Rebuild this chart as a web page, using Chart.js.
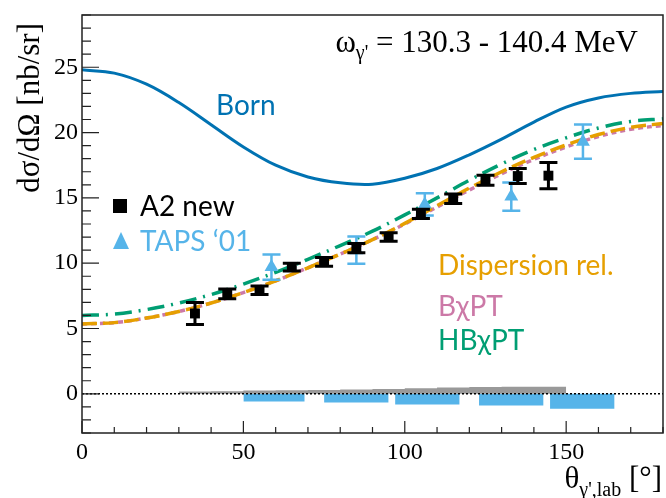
<!DOCTYPE html>
<html>
<head>
<meta charset="utf-8">
<script src="https://cdn.jsdelivr.net/npm/chart.js@4.4.1/dist/chart.umd.min.js"></script>
<style>
  html, body { margin: 0; padding: 0; background: #fff; overflow: hidden; }
  #wrap { width: 666px; height: 498px; }
</style>
</head>
<body>
<div id="wrap"><canvas id="cs"></canvas></div>
<script>
// theory curves, read every 10 degrees
const angles = [0, 10, 20, 30, 40, 50, 60, 70, 80, 90, 100, 110, 120, 130, 140, 150, 160, 170, 180];
const born = [24.8, 24.55, 23.7, 22.3, 20.6, 18.9, 17.5, 16.6, 16.15, 16.05, 16.5, 17.25, 18.3, 19.5, 20.8, 21.95, 22.65, 23.0, 23.15];
const dispersion = [5.35, 5.45, 5.8, 6.3, 6.95, 7.75, 8.65, 9.65, 10.7, 11.8, 13.05, 14.4, 15.75, 17.0, 18.1, 19.05, 19.85, 20.4, 20.7];
const bchpt = [5.35, 5.45, 5.8, 6.3, 6.95, 7.75, 8.65, 9.65, 10.7, 11.8, 13.0, 14.3, 15.6, 16.85, 17.95, 18.9, 19.7, 20.25, 20.55];
const hbchpt = [6.0, 6.1, 6.45, 6.95, 7.6, 8.4, 9.3, 10.3, 11.35, 12.45, 13.7, 15.0, 16.35, 17.6, 18.7, 19.6, 20.35, 20.85, 21.05];

// A2 new data
const a2X = [35, 45, 55, 65, 75, 85, 95, 105, 115, 125, 135, 144.5];
const a2Y = [6.15, 7.65, 7.93, 9.7, 10.1, 11.15, 12.0, 13.78, 14.93, 16.35, 16.67, 16.7];
const a2Err = [0.85, 0.37, 0.33, 0.3, 0.33, 0.35, 0.33, 0.35, 0.36, 0.38, 0.57, 1.0];

// TAPS '01 data
const tapsX = [58.7, 85, 106.2, 133, 155.2];
const tapsY = [9.7, 11.0, 14.5, 15.1, 19.3];
const tapsErr = [0.97, 1.05, 0.85, 1.08, 1.31];

// systematic errors
const a2SysEdges = [30, 40, 50, 60, 70, 80, 90, 100, 110, 120, 130, 140, 150];
const a2Sys = [0.15, 0.17, 0.2, 0.26, 0.28, 0.3, 0.33, 0.36, 0.43, 0.48, 0.52, 0.55];
const tapsSysLo = [50, 75, 97, 123, 145];
const tapsSysHi = [69, 95, 117, 143, 165];
const tapsSys = [0.58, 0.66, 0.81, 0.89, 1.15];

const xTicks = [0, 50, 100, 150];
const yTicks = [0, 5, 10, 15, 20, 25];

const SERIF = '"Liberation Serif", "Times New Roman", serif';
const SANS = 'Lato, "Noto Sans", sans-serif';
const C_BORN = '#0072b2', C_TAPS = '#56b4e9', C_DR = '#e69f00', C_B = '#cc79a7', C_HB = '#009e73';

const pts = (xs, ys) => xs.map((x, i) => ({ x: x, y: ys[i] }));

const curve = (data, color, dash, width) => ({
    data: data,
    borderColor: color,
    borderWidth: width,
    borderDash: dash,
    pointRadius: 0,
    fill: false,
    tension: 0.35
});

// gray A2 systematic band (step histogram)
const a2SysPts = a2SysEdges.map((x, i) => ({ x: x, y: a2Sys[Math.min(i, a2Sys.length - 1)] }));

const datasets = [
    { label: 'A2 new', data: pts(a2X, a2Y), showLine: false, pointStyle: 'rect', pointRadius: 7,
      backgroundColor: '#000', borderColor: '#000', borderWidth: 0, errs: a2Err, errColor: '#000', errWidth: 3 },
    { label: "TAPS '01", data: pts(tapsX, tapsY), showLine: false, pointStyle: 'triangle', pointRadius: 8,
      backgroundColor: C_TAPS, borderColor: C_TAPS, borderWidth: 0, errs: tapsErr, errColor: C_TAPS, errWidth: 2.5 },
    curve(pts(angles, born), C_BORN, [], 3),
    curve(pts(angles, hbchpt), C_HB, [17, 7, 2, 7], 3.5),
    curve(pts(angles, dispersion), C_DR, [15, 6], 3.5),
    curve(pts(angles, bchpt), C_B, [5, 4], 3.5),
    { data: [{ x: 0, y: 0 }, { x: 180, y: 0 }], borderColor: '#000', borderWidth: 1.5, borderDash: [2, 2], pointRadius: 0, fill: false },
    { data: a2SysPts, stepped: 'after', borderWidth: 0, borderColor: 'rgba(0,0,0,0)', backgroundColor: '#999999', pointRadius: 0, fill: 'origin' }
];
tapsSysLo.forEach((lo, i) => {
    datasets.push({
        data: [{ x: lo, y: -tapsSys[i] }, { x: tapsSysHi[i], y: -tapsSys[i] }],
        borderWidth: 0, borderColor: 'rgba(0,0,0,0)', backgroundColor: C_TAPS, pointRadius: 0, fill: 'origin'
    });
});

// error bars drawn right before their markers
const errorBars = {
    id: 'errorBars',
    beforeDatasetDraw(chart, args) {
        const ds = chart.data.datasets[args.index];
        if (!ds.errs) return;
        const ctx = chart.ctx, ys = chart.scales.y, xs = chart.scales.x;
        ctx.save();
        ctx.strokeStyle = ds.errColor;
        ctx.lineWidth = ds.errWidth;
        ds.data.forEach((p, i) => {
            const px = xs.getPixelForValue(p.x);
            const top = ys.getPixelForValue(p.y + ds.errs[i]);
            const bot = ys.getPixelForValue(p.y - ds.errs[i]);
            ctx.beginPath();
            ctx.moveTo(px, top); ctx.lineTo(px, bot);
            ctx.moveTo(px - 9, top); ctx.lineTo(px + 9, top);
            ctx.moveTo(px - 9, bot); ctx.lineTo(px + 9, bot);
            ctx.stroke();
        });
        ctx.restore();
    }
};

// frame, inner ticks, labels and titles
const decor = {
    id: 'decor',
    afterDraw(chart) {
        const ctx = chart.ctx, a = chart.chartArea, xs = chart.scales.x, ys = chart.scales.y;
        ctx.save();
        ctx.strokeStyle = '#222';
        ctx.lineWidth = 1.5;
        ctx.strokeRect(a.left, a.top, a.right - a.left, a.bottom - a.top);
        ctx.lineWidth = 1.2;
        ctx.beginPath();
        for (let v = -3; v <= 29; v++) {
            const py = ys.getPixelForValue(v);
            const len = v % 5 === 0 ? 17 : 9;
            ctx.moveTo(a.left, py); ctx.lineTo(a.left + len, py);
        }
        for (let v = 0; v <= 180; v += 10) {
            const px = xs.getPixelForValue(v);
            const len = v % 50 === 0 ? 12 : 6;
            ctx.moveTo(px, a.bottom); ctx.lineTo(px, a.bottom - len);
        }
        ctx.stroke();

        // title
        ctx.fillStyle = '#000';
        ctx.textBaseline = 'alphabetic';
        const big = '31px ' + SERIF, sub = '20px ' + SERIF;
        const rest = ' = 130.3 - 140.4 MeV';
        ctx.font = big; const wOm = ctx.measureText('\u03c9').width, wRest = ctx.measureText(rest).width;
        ctx.font = sub; const wSub = ctx.measureText('\u03b3\'').width;
        let tx = 638 - (wOm + wSub + wRest);
        ctx.font = big; ctx.fillText('\u03c9', tx, 52); tx += wOm;
        ctx.font = sub; ctx.fillText('\u03b3\'', tx, 59); tx += wSub;
        ctx.font = big; ctx.fillText(rest, tx, 52);

        // x title
        const xb = '31px ' + SERIF, xsub = '20px ' + SERIF;
        ctx.font = xb; const wTh = ctx.measureText('\u03b8').width, wBr = ctx.measureText(' [\u00b0]').width;
        ctx.font = xsub; const wXs = ctx.measureText('\u03b3\',lab').width;
        let xx = 662 - (wTh + wXs + wBr);
        ctx.font = xb; ctx.fillText('\u03b8', xx, 488); xx += wTh;
        ctx.font = xsub; ctx.fillText('\u03b3\',lab', xx, 496); xx += wXs;
        ctx.font = xb; ctx.fillText(' [\u00b0]', xx, 488);

        // y title
        ctx.save();
        ctx.translate(39, 23);
        ctx.rotate(-Math.PI / 2);
        ctx.textAlign = 'right';
        ctx.font = '31px ' + SERIF;
        ctx.fillText('d\u03c3/d\u03a9 [nb/sr]', 0, 0);
        ctx.restore();

        // labels
        ctx.textBaseline = 'middle';
        ctx.textAlign = 'left';
        ctx.font = '28px ' + SANS;
        ctx.fillStyle = C_BORN; ctx.fillText('Born', 216, 106);
        ctx.fillStyle = C_DR; ctx.fillText('Dispersion rel.', 438, 266);
        ctx.fillStyle = C_B; ctx.fillText('B\u03c7PT', 438, 307);
        ctx.fillStyle = C_HB; ctx.fillText('HB\u03c7PT', 438, 341);

        // legend
        ctx.fillStyle = '#000';
        ctx.fillRect(113, 199, 14, 14);
        ctx.fillText('A2 new', 140, 207);
        ctx.fillStyle = C_TAPS;
        ctx.beginPath();
        ctx.moveTo(121, 232); ctx.lineTo(129, 249); ctx.lineTo(113, 249); ctx.closePath();
        ctx.fill();
        ctx.fillText('TAPS \u201801', 140, 242);
        ctx.restore();
    }
};

new Chart(document.getElementById('cs'), {
    type: 'line',
    data: { datasets: datasets },
    options: {
        responsive: true,
        maintainAspectRatio: false,
        animation: false,
        layout: { autoPadding: false, padding: { top: 15, right: 3, left: 0, bottom: 0 } },
        plugins: { legend: { display: false }, tooltip: { enabled: false } },
        scales: {
            x: {
                type: 'linear', min: 0, max: 180,
                grid: { display: false, drawTicks: false },
                border: { display: false },
                afterBuildTicks: s => { s.ticks = xTicks.map(v => ({ value: v })); },
                afterFit: s => { s.height = 65; s.paddingLeft = 0; s.paddingRight = 0; },
                ticks: { color: '#000', font: { family: SERIF, size: 24 }, padding: 5, maxRotation: 0 }
            },
            y: {
                type: 'linear', min: -3, max: 29,
                grid: { display: false, drawTicks: false },
                border: { display: false },
                afterBuildTicks: s => { s.ticks = yTicks.map(v => ({ value: v })); },
                afterFit: s => { s.width = 82; s.paddingTop = 0; s.paddingBottom = 0; },
                ticks: { color: '#000', font: { family: SERIF, size: 24 }, padding: 4 }
            }
        }
    },
    plugins: [errorBars, decor]
});
</script>
</body>
</html>
